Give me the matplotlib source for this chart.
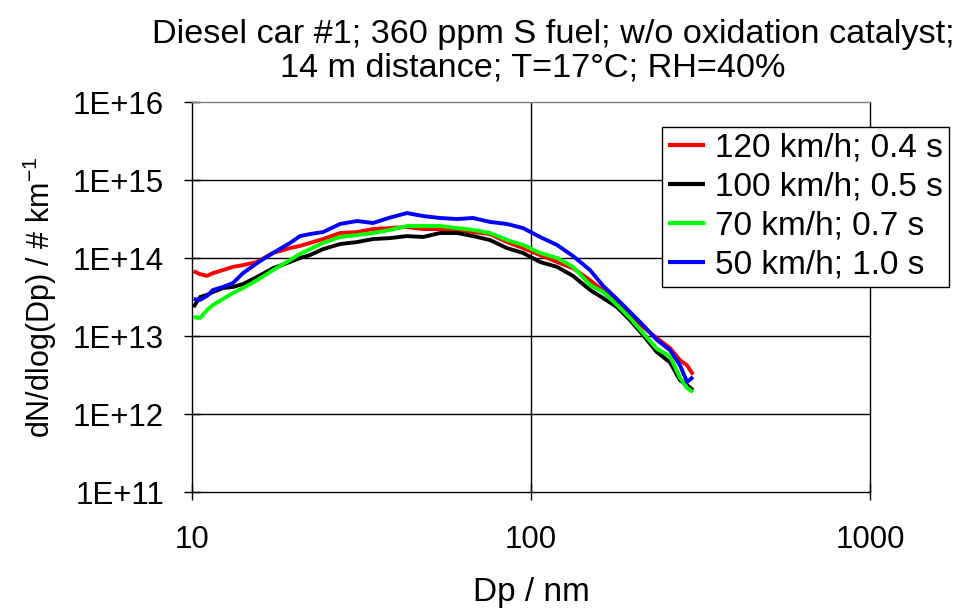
import numpy as np
import matplotlib
matplotlib.use("Agg")
import matplotlib.pyplot as plt
from matplotlib.ticker import FuncFormatter, FixedLocator, NullLocator

plt.rcParams['font.family'] = ['Liberation Sans', 'DejaVu Sans']
plt.rcParams['mathtext.fontset'] = 'custom'
plt.rcParams['mathtext.rm'] = 'Liberation Sans'
plt.rcParams['mathtext.it'] = 'Liberation Sans'
plt.rcParams['mathtext.bf'] = 'Liberation Sans'

# Particle diameter (nm)
dp = [10.1, 10.56, 11.07, 11.53, 12.34, 13.21, 14.14, 15.55, 17.34, 19.46,
      20.83, 22.29, 24.35, 27.33, 30.67, 34.20, 38.37, 43.07, 48.02, 53.88,
      60.48, 67.44, 75.69, 84.95, 94.7, 106.3, 119.3, 133.0, 149.3, 163.1,
      179.3, 195.9, 214.0, 235.3, 257.0, 275.2, 288.6, 300.6]

# dN/dlog(Dp) in # per km
kmh120 = [6.8e13, 6.2e13, 5.9e13, 6.4e13, 7.0e13, 7.7e13, 8.1e13, 8.9e13, 1.16e14, 1.34e14,
          1.43e14, 1.56e14, 1.75e14, 2.09e14, 2.15e14, 2.35e14, 2.42e14, 2.50e14, 2.35e14, 2.35e14,
          2.29e14, 2.15e14, 2.03e14, 1.60e14, 1.34e14, 1.09e14, 8.9e13, 7.4e13, 5.2e13, 3.8e13,
          2.57e13, 1.91e13, 1.30e13, 9.4e12, 7.0e12, 4.9e12, 4.2e12, 3.2e12]
kmh100 = [2.35e13, 3.16e13, 3.36e13, 3.67e13, 4.12e13, 4.25e13, 4.64e13, 5.7e13, 7.4e13, 8.9e13,
          1.0e14, 1.09e14, 1.30e14, 1.51e14, 1.60e14, 1.75e14, 1.80e14, 1.91e14, 1.86e14, 2.09e14,
          2.09e14, 1.91e14, 1.70e14, 1.34e14, 1.16e14, 8.9e13, 7.7e13, 5.9e13, 3.9e13, 3.07e13,
          2.35e13, 1.60e13, 1.03e13, 6.2e12, 4.6e12, 2.7e12, 2.35e12, 2.03e12]
kmh70 = [1.75e13, 1.70e13, 2.15e13, 2.50e13, 2.98e13, 3.56e13, 4.12e13, 5.2e13, 7.0e13, 9.4e13,
         1.13e14, 1.30e14, 1.56e14, 1.86e14, 1.97e14, 2.09e14, 2.29e14, 2.57e14, 2.57e14, 2.57e14,
         2.42e14, 2.29e14, 2.09e14, 1.70e14, 1.47e14, 1.16e14, 1.0e14, 7.7e13, 4.5e13, 3.67e13,
         2.50e13, 1.70e13, 1.09e13, 6.8e12, 5.5e12, 2.9e12, 2.15e12, 1.91e12]
kmh50 = [2.98e13, 2.90e13, 3.26e13, 3.89e13, 4.25e13, 4.78e13, 6.4e13, 8.6e13, 1.16e14, 1.56e14,
         1.91e14, 2.03e14, 2.15e14, 2.73e14, 2.98e14, 2.81e14, 3.30e14, 3.77e14, 3.45e14, 3.26e14,
         3.16e14, 3.26e14, 2.90e14, 2.73e14, 2.42e14, 1.86e14, 1.47e14, 1.06e14, 7.0e13, 4.4e13,
         2.98e13, 2.03e13, 1.38e13, 8.9e12, 6.6e12, 4.2e12, 2.57e12, 2.98e12]

labels = ["120 km/h; 0.4 s", "100 km/h; 0.5 s", "70 km/h; 0.7 s", "50 km/h; 1.0 s"]
colors = ["#ff0000", "#000000", "#00ff00", "#0000ff"]
values = [kmh120, kmh100, kmh70, kmh50]

fig = plt.figure(figsize=(9.64, 6.08), dpi=100)
ax = fig.add_axes([192/964, 1-492/608, (870-192)/964, (492-102)/608])

for label, vals, col in zip(labels, values, colors):
    ax.plot(dp, vals, color=col, lw=2.8, label=label, solid_joinstyle='round',
            solid_capstyle='butt')

ax.set_xscale('log')
ax.set_yscale('log')
ax.set_xlim(10, 1000)
ax.set_ylim(1e11, 1e16)

ax.xaxis.set_major_locator(FixedLocator([10, 100, 1000]))
ax.xaxis.set_minor_locator(NullLocator())
ax.yaxis.set_major_locator(FixedLocator([1e11, 1e12, 1e13, 1e14, 1e15, 1e16]))
ax.yaxis.set_minor_locator(NullLocator())
ax.xaxis.set_major_formatter(FuncFormatter(lambda v, p: f"{v:g}"))
ax.yaxis.set_major_formatter(FuncFormatter(lambda v, p: f"1E+{int(round(np.log10(v)))}"))

fs_tick = 22.5
ax.tick_params(axis='both', direction='inout', length=12, width=1.0,
               labelsize=fs_tick, colors='black')
ax.tick_params(axis='x', pad=18)
ax.tick_params(axis='y', pad=14)

for y in [1e12, 1e13, 1e14, 1e15]:
    ax.axhline(y, color='black', lw=1.0, zorder=0.5)
ax.axvline(100, color='black', lw=1.0, zorder=0.5)

for s in ['left', 'bottom', 'right']:
    ax.spines[s].set_color('black')
    ax.spines[s].set_linewidth(1.0)
ax.spines['top'].set_color('#808080')
ax.spines['top'].set_linewidth(1.0)

fig.text(531/964, 1-592/608, "Dp / nm", ha='center', va='center', fontsize=24)
fig.text(40/964, 1-297/608, "dN/dlog(Dp) / # km$^{-1}$", ha='center', va='center',
         rotation=90, fontsize=22)

fig.text(553/964, 1-35/608, "Diesel car #1; 360 ppm S fuel; w/o oxidation catalyst;",
         ha='center', va='center', fontsize=24.7)
fig.text(533/964, 1-68/608, "14 m distance; T=17°C; RH=40%",
         ha='center', va='center', fontsize=24.7)

leg = ax.legend(loc='upper left', bbox_to_anchor=(662/964, 1-127/608),
                bbox_transform=fig.transFigure, fontsize=24, frameon=True,
                fancybox=False, framealpha=1, edgecolor='black',
                handlelength=1.1, handletextpad=0.3, borderpad=0.18,
                labelspacing=0.24, borderaxespad=0, handleheight=0.7)
leg.get_frame().set_linewidth(1.0)
for h in leg.get_lines():
    h.set_linewidth(3)

fig.savefig("out.png", dpi=100)
